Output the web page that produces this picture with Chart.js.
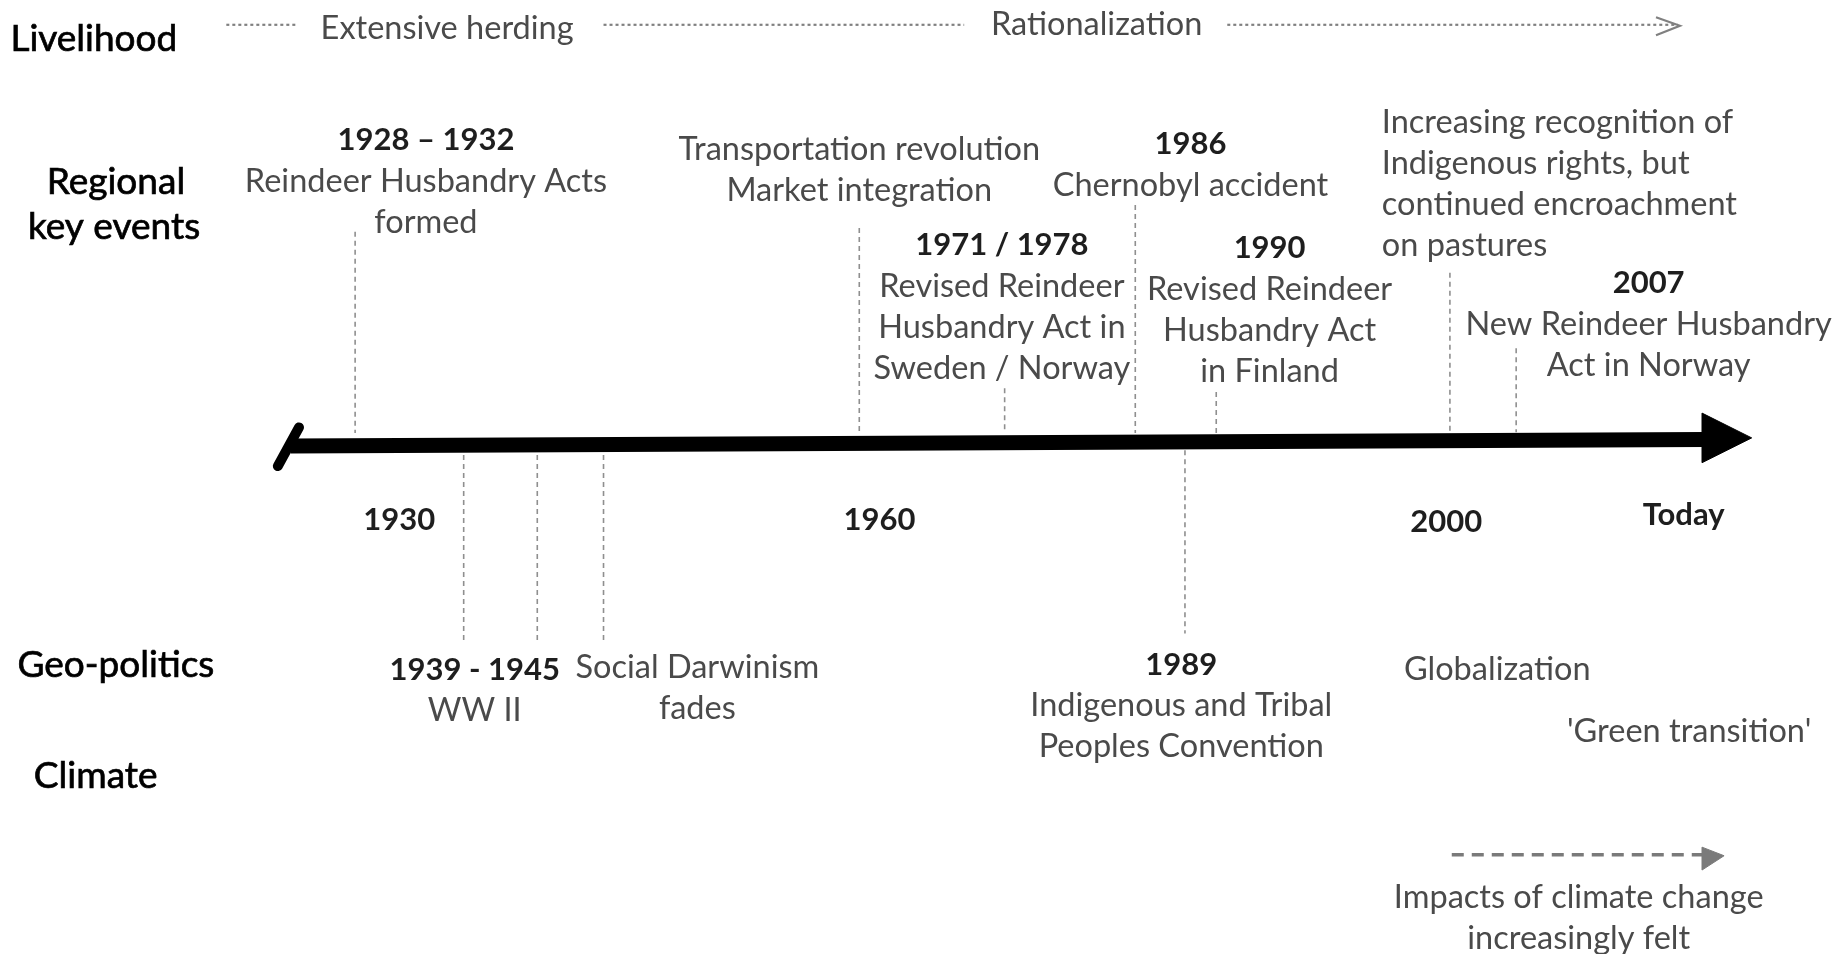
<!DOCTYPE html>
<html>
<head>
<meta charset="utf-8">
<script src="https://cdn.jsdelivr.net/npm/chart.js@4.4.1/dist/chart.umd.min.js"></script>
<style>
  html, body { margin: 0; padding: 0; background: #fff; }
  #wrap { width: 1840px; height: 954px; }
</style>
</head>
<body>
<div id="wrap"><canvas id="timeline"></canvas></div>
<script>
// positions: x 0-100 = left to right, y 0-100 = top to bottom

const rowLabels = ['Livelihood', 'Regional', 'key events', 'Geo-politics', 'Climate'];
const rowLabelX = [5.1, 6.3, 6.2, 6.3, 5.2];
const rowLabelY = [4.1, 19.1, 23.8, 69.7, 81.3];

const tickLabels = ['1930', '1960', '2000', 'Today'];
const tickX = [21.7, 47.8, 78.6, 91.5];
const tickY = [54.5, 54.5, 54.7, 54.0];

const phaseLabels = ['Extensive herding', 'Rationalization'];
const phaseX = [24.3, 59.6];
const phaseY = [3.0, 2.6];
const phaseLineY = 2.6;
const phaseSegments = [[12.3, 16.1], [32.8, 52.4], [66.7, 91.2]];

// main time axis
const axisX = [15.8, 92.6];
const axisY = [46.75, 46.07];

// event texts
const eventYears = ['1928 – 1932', '', '1971 / 1978', '1986', '1990', '', '2007',
  '1939 - 1945', '', '1989', '', '', ''];
const eventNotes = [
  ['Reindeer Husbandry Acts', 'formed'],
  ['Transportation revolution', 'Market integration'],
  ['Revised Reindeer', 'Husbandry Act in', 'Sweden / Norway'],
  ['Chernobyl accident'],
  ['Revised Reindeer', 'Husbandry Act', 'in Finland'],
  ['Increasing recognition of', 'Indigenous rights, but', 'continued encroachment', 'on pastures'],
  ['New Reindeer Husbandry', 'Act in Norway'],
  ['WW II'],
  ['Social Darwinism', 'fades'],
  ['Indigenous and Tribal', 'Peoples Convention'],
  ['Globalization'],
  ['\'Green transition\''],
  ['Impacts of climate change', 'increasingly felt']
];
const eventTextX = [23.15, 46.7, 54.45, 64.7, 69.0, 75.1, 89.6, 25.8, 37.9, 64.2, 76.3, 91.8, 85.8];
const eventTextY = [14.7, 15.7, 25.7, 15.1, 26.0, 12.8, 29.7, 70.2, 70.0, 69.7, 70.2, 76.7, 94.1];
const eventAlign = ['center', 'center', 'center', 'center', 'center', 'left', 'center',
  'center', 'center', 'center', 'left', 'center', 'center'];
const lineStep = 4.3;

// dashed markers from the events to the axis
const markerX = [19.3, 46.7, 54.6, 61.7, 66.1, 78.8, 82.4, 25.2, 29.2, 32.8, 64.4];
const markerFrom = [24.3, 23.9, 40.7, 21.5, 41.1, 28.6, 36.5, 47.7, 47.7, 47.7, 47.2];
const markerTo = [45.4, 45.4, 45.4, 45.4, 45.4, 45.3, 45.3, 67.4, 67.4, 67.4, 66.4];

// climate arrow
const climateX = [78.9, 92.5];
const climateY = 89.6;

const FONT = 'Lato, "Open Sans", sans-serif';
const GREY_LINE = '#8f8f8f';

const datasets = [];

// dotted livelihood line
phaseSegments.forEach(seg => {
  datasets.push({
    data: [{x: seg[0], y: phaseLineY}, {x: seg[1], y: phaseLineY}],
    borderColor: '#808080', borderWidth: 2.2, borderDash: [3, 3]
  });
});
datasets.push({
  data: [{x: 90.0, y: 1.8}, {x: 91.3, y: 2.7}, {x: 90.0, y: 3.7}],
  borderColor: '#808080', borderWidth: 2.2
});

// event markers
markerX.forEach((x, i) => {
  datasets.push({
    data: [{x: x, y: markerFrom[i]}, {x: x, y: markerTo[i]}],
    borderColor: GREY_LINE, borderWidth: 1.6, borderDash: [5, 4]
  });
});

// main axis, left tick and arrow head
datasets.push({
  data: [{x: axisX[0], y: axisY[0]}, {x: axisX[1], y: axisY[1]}],
  borderColor: '#000', borderWidth: 15
});
datasets.push({
  data: [{x: 16.25, y: 44.8}, {x: 15.1, y: 48.85}],
  borderColor: '#000', borderWidth: 10, borderCapStyle: 'round'
});
datasets.push({
  data: [{x: 92.5, y: 43.3}, {x: 95.2, y: 45.9}, {x: 92.5, y: 48.5}, {x: 92.5, y: 43.3}],
  borderColor: '#000', backgroundColor: '#000', borderWidth: 1, fill: 'shape'
});

// climate arrow
datasets.push({
  data: [{x: climateX[0], y: climateY}, {x: climateX[1], y: climateY}],
  borderColor: '#7a7a7a', borderWidth: 3.5, borderDash: [12, 8]
});
datasets.push({
  data: [{x: 92.5, y: 88.8}, {x: 93.7, y: 89.7}, {x: 92.5, y: 91.2}, {x: 92.5, y: 88.8}],
  borderColor: '#7a7a7a', backgroundColor: '#7a7a7a', borderWidth: 1, fill: 'shape'
});

const textPlugin = {
  id: 'timelineText',
  afterDatasetsDraw(chart) {
    const ctx = chart.ctx;
    const xs = chart.scales.x, ys = chart.scales.y;
    const put = (txt, x, y, font, color, align, stroke) => {
      const px = xs.getPixelForValue(x), py = ys.getPixelForValue(y);
      ctx.font = font;
      ctx.fillStyle = color;
      ctx.textAlign = align || 'center';
      ctx.textBaseline = 'middle';
      ctx.fillText(txt, px, py);
      if (stroke) {
        ctx.strokeStyle = color;
        ctx.lineWidth = stroke;
        ctx.strokeText(txt, px, py);
      }
    };
    ctx.save();
    rowLabels.forEach((t, i) => put(t, rowLabelX[i], rowLabelY[i], '37px ' + FONT, '#000', 'center', 0.7));
    phaseLabels.forEach((t, i) => put(t, phaseX[i], phaseY[i], '32.5px ' + FONT, '#4a4a4a'));
    tickLabels.forEach((t, i) => put(t, tickX[i], tickY[i], 'bold 31px ' + FONT, '#1e1e1e'));
    eventNotes.forEach((notes, i) => {
      let y = eventTextY[i];
      if (eventYears[i]) {
        put(eventYears[i], eventTextX[i], y, 'bold 31px ' + FONT, '#1e1e1e', eventAlign[i]);
        y += lineStep;
      }
      notes.forEach(n => {
        put(n, eventTextX[i], y, '32.5px ' + FONT, '#4a4a4a', eventAlign[i]);
        y += lineStep;
      });
    });
    ctx.restore();
  }
};

new Chart(document.getElementById('timeline'), {
  type: 'scatter',
  data: {datasets: datasets.map(d => Object.assign({showLine: true, pointRadius: 0, fill: false, clip: false}, d))},
  options: {
    responsive: true,
    maintainAspectRatio: false,
    animation: false,
    layout: {padding: 0},
    plugins: {legend: {display: false}, tooltip: {enabled: false}},
    scales: {
      x: {type: 'linear', min: 0, max: 100, display: false},
      y: {type: 'linear', min: 0, max: 100, reverse: true, display: false}
    }
  },
  plugins: [textPlugin]
});
</script>
</body>
</html>
